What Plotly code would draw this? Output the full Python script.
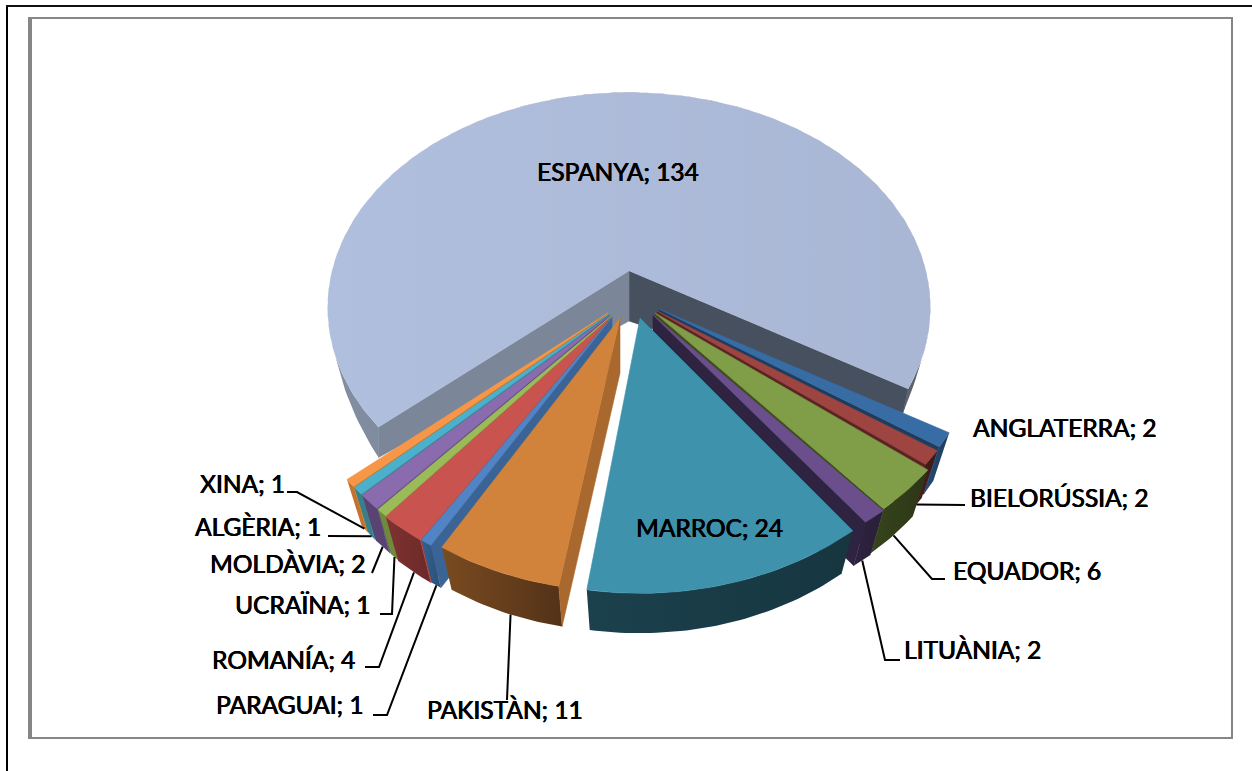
import math
import plotly.graph_objects as go

# ---- data
categories = ["ESPANYA", "ANGLATERRA", "BIELORÚSSIA", "EQUADOR", "LITUÀNIA", "MARROC", "PAKISTÀN",
              "PARAGUAI", "ROMANÍA", "UCRAÏNA", "MOLDÀVIA", "ALGÈRIA", "XINA"]
values = [134, 2, 2, 6, 2, 24, 11, 1, 4, 1, 2, 1, 1]

# ---- styles
top_colors = ["#AEBBDA", "#386CA5", "#9E4441", "#7F9E47", "#6A4F8C", "#3F92AB", "#D2833B",
              "#5084C4", "#C9534F", "#9BBB59", "#8A6CAE", "#4BB0CB", "#F79646"]
wall_left = ["#838FA3", "#264B73", "#4F1F1E", "#37441C", "#2E2340", "#1B414D", "#7A4B20",
             "#34608F", "#7E3331", "#6F8A3A", "#5A4273", "#35808F", "#C2742F"]
wall_right = ["#59616F", "#1E3D5E", "#3F1817", "#2C3616", "#2A1F3A", "#163640", "#533218",
              "#2B5079", "#6C2928", "#6F8A3A", "#5A4273", "#35808F", "#C2742F"]
cut_colors = ["#47505E", "#1E3D5E", "#5A2423", "#3E4C20", "#2E2340", "#17363F", "#A8682E",
              "#3A6496", "#A33F3C", "#789238", "#62497F", "#35808F", "#C2742F"]
apex = [(629, 271), (659, 309), (657, 311), (655, 313), (653, 315), (640, 318), (620, 318),
        (612, 317), (611, 317), (611, 316), (610, 315), (609, 314), (608, 313)]
radius = [(297, 209), (315, 215), (315, 218), (320, 223), (322, 223), (312, 234), (305, 232),
          (310, 231), (310, 231), (310, 231), (310, 231), (310, 231), (310, 231)]
rotation = [-1.0, 0, 0, 0, 0, -1.5, 0, 0, 0, 0, 0, 0, 0]
persp = [0.17, 0.15, 0.15, 0.15, 0.15, 0.15, 0.15, 0.15, 0.15, 0.15, 0.15, 0.15, 0.15]
START = 122.0   # clockwise angle at which the first slice after ESPANYA begins

label_pos = {
    "ESPANYA": (618, 171, "center"), "ANGLATERRA": (971, 427, "left"), "BIELORÚSSIA": (968, 497, "left"),
    "EQUADOR": (951, 570, "left"), "LITUÀNIA": (902, 649, "left"), "MARROC": (709, 527, "center"),
    "PAKISTÀN": (505, 709, "center"), "PARAGUAI": (365, 704, "right"), "ROMANÍA": (357, 659, "right"),
    "UCRAÏNA": (372, 604, "right"), "MOLDÀVIA": (367, 563, "right"), "ALGÈRIA": (323, 526, "right"),
    "XINA": (287, 483, "right"),
}
leader_path = {
    "BIELORÚSSIA": [(937, 505), (965, 505)],
    "EQUADOR": [(932, 579), (945, 579)],
    "LITUÀNIA": [(885, 660), (900, 660)],
    "PAKISTÀN": [(507, 700)],
    "PARAGUAI": [(387, 715), (373, 715)],
    "ROMANÍA": [(379, 667), (365, 667)],
    "UCRAÏNA": [(392, 614), (380, 614)],
    "MOLDÀVIA": [(372, 573)],
    "ALGÈRIA": [(353, 536), (328, 536)],
    "XINA": [(297, 492), (287, 492)],
}
leader_shift = {"PAKISTÀN": -1.2}

total = sum(values)
angles = {}
a = START
for i in range(1, len(values)):
    b = a + values[i] / total * 360
    angles[i] = (a, b)
    a = b
angles[0] = (a, START + 360)


def rel(i, th):
    t = math.radians(th + rotation[i])
    X, Y = math.sin(t), -math.cos(t)
    w = 1 - persp[i] * Y
    rx, ry = radius[i]
    return rx * X / w, ry * Y / w


def top_pt(i, th):
    dx, dy = rel(i, th)
    return apex[i][0] + dx, apex[i][1] + dy


def bot_pt(i, th):
    dx, dy = rel(i, th)
    if i == 0:
        # the back slice shows its rim only below the widest part of the ellipse
        if dx < 0:
            f = max(0.0, (dy - 85) / 71)
            return apex[0][0] + dx, apex[0][1] + dy + 30 * f
        f = max(0.0, (dy - 85) / 33)
        return apex[0][0] + dx - 5 * f, apex[0][1] + dy + 24 * f
    s, d = 0.945, 55
    return apex[i][0] + s * dx, apex[i][1] + d + s * dy


def arc(fn, i, a0, a1):
    n = max(2, int(abs(a1 - a0) / 1.0))
    return [fn(i, a0 + (a1 - a0) * k / n) for k in range(n + 1)]


fig = go.Figure()


def poly(pts, color=None, grad=None):
    xs = [p[0] for p in pts] + [pts[0][0]]
    ys = [p[1] for p in pts] + [pts[0][1]]
    kw = dict(x=xs, y=ys, mode="lines", fill="toself", hoverinfo="skip", showlegend=False)
    if grad:
        fig.add_trace(go.Scatter(line=dict(width=0, color=grad[0]),
                                 fillgradient=dict(type="horizontal", colorscale=[[0, grad[0]], [1, grad[1]]]),
                                 fillcolor=grad[0], **kw))
    else:
        fig.add_trace(go.Scatter(line=dict(width=0.6, color=color), fillcolor=color, **kw))


def draw_slice(i, cut):
    a0, a1 = angles[i]
    poly(arc(top_pt, i, a0, a1) + arc(bot_pt, i, a1, a0), grad=(wall_left[i], wall_right[i]))
    if cut is not None:
        th = a1 if cut == "end" else a0
        ax, ay = apex[i]
        poly([(ax, ay), top_pt(i, th), bot_pt(i, th), (ax, ay + 55)], color=cut_colors[i])
    poly([apex[i]] + arc(top_pt, i, a0, a1), color=top_colors[i])


# ESPANYA (back)
a0, a1 = angles[0]
poly(arc(top_pt, 0, a0, a1) + arc(bot_pt, 0, a1, a0), grad=(wall_left[0], wall_right[0]))
ax, ay = apex[0]
poly([(ax, ay), top_pt(0, a1), bot_pt(0, a1), (ax, ay + 50)], color="#47505E")
poly([(ax, ay), top_pt(0, a0), bot_pt(0, a0), (ax, ay + 50)], color="#7B8798")
poly([apex[0]] + arc(top_pt, 0, a0, a1), grad=("#B1BFDE", "#A9B7D5"))

# right group, then left group, then the two large front slices
for i in [1, 2, 3, 4]:
    draw_slice(i, "end")
for i in [12, 11, 10, 9, 8, 7]:
    draw_slice(i, "start")
draw_slice(6, "start")
draw_slice(5, "start")

# leaders
for i, name in enumerate(categories):
    if name not in leader_path:
        continue
    mid = sum(angles[i]) / 2 + leader_shift.get(name, 0)
    pts = [bot_pt(i, mid)] + leader_path[name]
    fig.add_trace(go.Scatter(x=[p[0] for p in pts], y=[p[1] for p in pts], mode="lines",
                             line=dict(color="#000000", width=2), hoverinfo="skip", showlegend=False))

annotations = []
for name, v in zip(categories, values):
    x, y, anchor = label_pos[name]
    annotations.append(dict(x=x, y=y, xref="x", yref="y", text=f"{name}; {v}", showarrow=False,
                            xanchor=anchor, yanchor="middle",
                            font=dict(family="Lato", size=24.5, color="#000000",
                                      shadow="0.6px 0 0 #000000, -0.3px 0 0 #000000")))

shapes = [
    dict(type="line", x0=7, x1=7, y0=6, y1=771, line=dict(color="#000000", width=2)),
    dict(type="line", x0=6, x1=1252, y0=6, y1=6, line=dict(color="#111111", width=2)),
    dict(type="rect", x0=30, x1=1232, y0=18, y1=738, line=dict(color="#868686", width=2)),
    dict(type="line", x0=30, x1=30, y0=17, y1=739, line=dict(color="#868686", width=4)),
]

fig.update_layout(
    width=1252, height=771, margin=dict(l=0, r=0, t=0, b=0),
    paper_bgcolor="#FFFFFF", plot_bgcolor="#FFFFFF", showlegend=False,
    xaxis=dict(range=[0, 1252], visible=False, fixedrange=True),
    yaxis=dict(range=[771, 0], visible=False, fixedrange=True),
    annotations=annotations, shapes=shapes,
)
fig.write_html("out.html", config=dict(displayModeBar=False),
               post_script="document.body.style.margin='0';document.body.style.overflow='hidden';")
